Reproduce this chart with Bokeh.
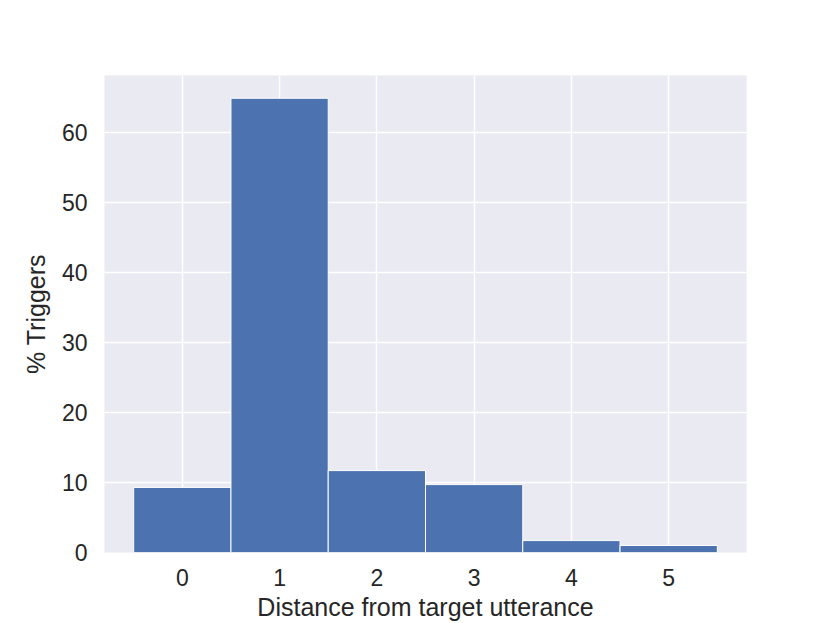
from bokeh.plotting import figure
from bokeh.models import ColumnDataSource, FixedTicker, Range1d
from bokeh.embed import file_html
from bokeh.resources import INLINE

# Data
distances = [0, 1, 2, 3, 4, 5]
pct_triggers = [9.3, 64.9, 11.7, 9.7, 1.7, 1.0]
x_ticks = [0, 1, 2, 3, 4, 5]
y_ticks = [0, 10, 20, 30, 40, 50, 60]

src = ColumnDataSource(dict(
    left=[d - 0.5 for d in distances],
    right=[d + 0.5 for d in distances],
    top=pct_triggers,
    bottom=[0] * len(distances),
))

p = figure(width=830, height=623, output_backend="svg", toolbar_location=None,
           x_range=Range1d(-0.8, 5.8), y_range=Range1d(0, 68.15),
           min_border_left=104, min_border_right=84, min_border_top=75, min_border_bottom=69)

p.background_fill_color = "#eaeaf2"
p.border_fill_color = "white"
p.outline_line_color = None

p.quad(left="left", right="right", top="top", bottom="bottom", source=src,
       fill_color="#4c72b0", line_color="white", line_width=1)

p.xgrid.grid_line_color = "white"
p.ygrid.grid_line_color = "white"
p.xgrid.grid_line_width = 1.5
p.ygrid.grid_line_width = 1.5

p.xaxis.ticker = FixedTicker(ticks=x_ticks)
p.yaxis.ticker = FixedTicker(ticks=y_ticks)

for ax in (p.xaxis, p.yaxis):
    ax.axis_line_color = None
    ax.major_tick_line_color = None
    ax.minor_tick_line_color = None
    ax.major_tick_out = 0
    ax.major_tick_in = 0
    ax.major_label_text_font = "Liberation Sans"
    ax.major_label_text_font_size = "23px"
    ax.major_label_text_color = "#262626"
    ax.axis_label_text_font = "Liberation Sans"
    ax.axis_label_text_font_size = "25px"
    ax.axis_label_text_color = "#262626"
    ax.axis_label_text_font_style = "normal"

p.xaxis.axis_label = "Distance from target utterance"
p.yaxis.axis_label = "% Triggers"
p.xaxis.major_label_standoff = 16
p.xaxis.axis_label_standoff = 4
p.yaxis.major_label_standoff = 17
p.yaxis.axis_label_standoff = 9

open("out.html", "w").write(file_html(p, INLINE))
